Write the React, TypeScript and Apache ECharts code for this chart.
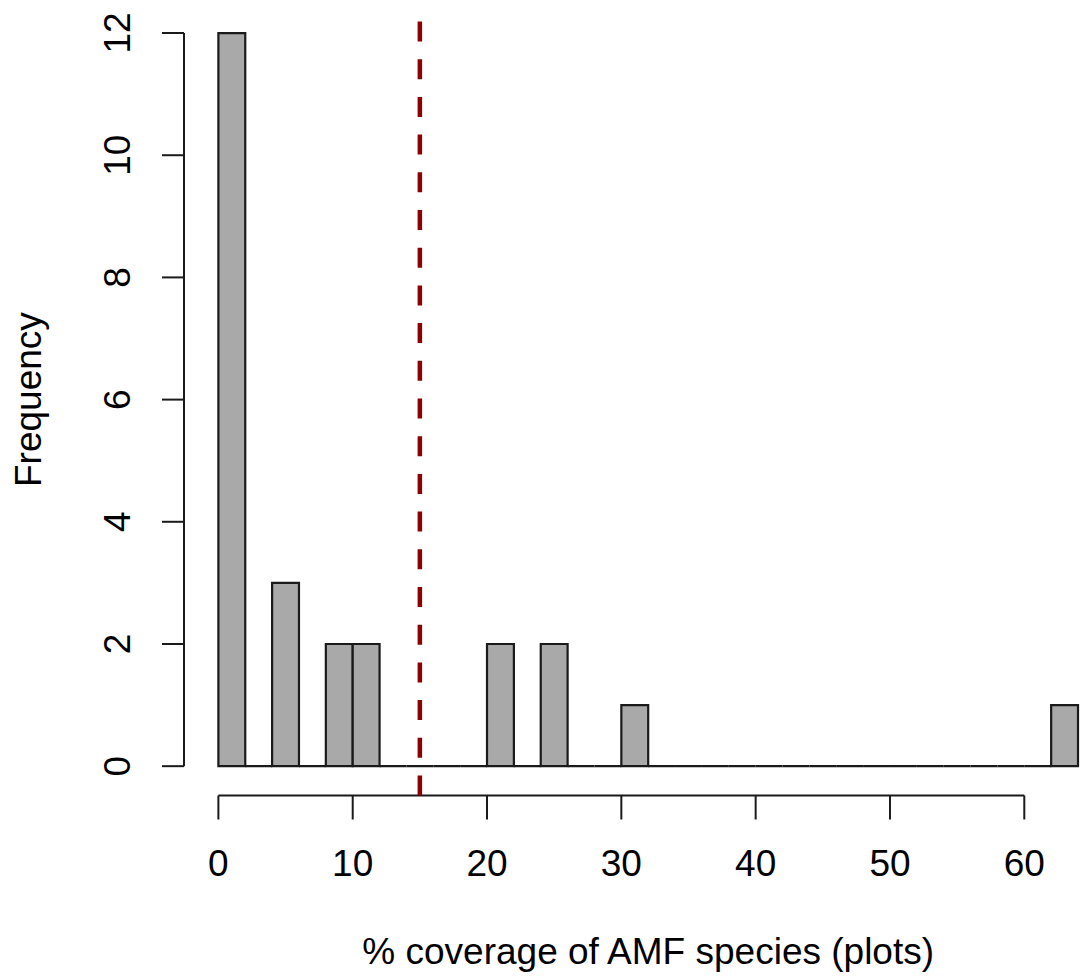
import React, { useEffect, useRef } from "react";
import * as echarts from "echarts";

// Histogram data (bins of width 2)
const binStarts = [0, 2, 4, 6, 8, 10, 12, 14, 16, 18, 20, 22, 24, 26, 28, 30, 32, 34, 36, 38, 40, 42, 44, 46, 48, 50, 52, 54, 56, 58, 60, 62];
const binWidth = 2;
const counts = [12, 0, 3, 0, 2, 2, 0, 0, 0, 0, 2, 0, 2, 0, 0, 1, 0, 0, 0, 0, 0, 0, 0, 0, 0, 0, 0, 0, 0, 0, 0, 1];
const xTicks = [0, 10, 20, 30, 40, 50, 60];
const yTicks = [0, 2, 4, 6, 8, 10, 12];
const meanValue = 15;
const xTitle = "% coverage of AMF species (plots)";
const yTitle = "Frequency";

const X_MIN = -2.56;
const X_MAX = 66.56;
const Y_MIN = -0.48;
const Y_MAX = 12.48;

const FONT = "'Liberation Sans', Arial, sans-serif";
const FS = 37;
const LINE = "#1a1a1a";

export default function App() {
  const ref = useRef<HTMLDivElement>(null);
  useEffect(() => {
    document.body.style.margin = "0";
    const chart = echarts.init(ref.current!, null, { renderer: "svg" });
    const txt = (x: number, y: number, text: string, rotation = 0) => ({
      type: "text",
      x,
      y,
      rotation,
      style: {
        text,
        fontSize: FS,
        fontFamily: FONT,
        fill: "#000",
        align: "center",
        verticalAlign: "middle",
        textAlign: "center",
        textVerticalAlign: "middle",
      },
    });
    chart.setOption({
      animation: false,
      grid: { left: 184, top: 3.7, width: 928.4, height: 791.8, containLabel: false },
      xAxis: { type: "value", min: X_MIN, max: X_MAX, show: false },
      yAxis: { type: "value", min: Y_MIN, max: Y_MAX, show: false },
      series: [
        {
          type: "custom",
          name: "bars",
          silent: true,
          clip: false,
          data: binStarts.map((s, i) => [s, s + binWidth, counts[i]]),
          renderItem: (params: any, api: any) => {
            const p0 = api.coord([api.value(0), 0]);
            const p1 = api.coord([api.value(1), api.value(2)]);
            return {
              type: "rect",
              shape: { x: p0[0], y: p1[1], width: p1[0] - p0[0], height: p0[1] - p1[1] },
              style: { fill: "#a9a9a9", stroke: LINE, lineWidth: 2.2 },
            };
          },
        },
        {
          type: "custom",
          name: "xaxis",
          silent: true,
          clip: false,
          data: xTicks.map((v) => [v]),
          renderItem: (params: any, api: any) => {
            const v = api.value(0);
            const p = api.coord([v, Y_MIN]);
            const children: any[] = [
              { type: "line", shape: { x1: p[0], y1: p[1], x2: p[0], y2: p[1] + 24 }, style: { stroke: LINE, lineWidth: 2 } },
              txt(p[0], p[1] + 68, String(v)),
            ];
            if (params.dataIndex === 0) {
              const e = api.coord([xTicks[xTicks.length - 1], Y_MIN]);
              children.push({ type: "line", shape: { x1: p[0], y1: p[1], x2: e[0], y2: e[1] }, style: { stroke: LINE, lineWidth: 2 } });
              const c = api.coord([(X_MIN + X_MAX) / 2, Y_MIN]);
              children.push(txt(c[0], p[1] + 156, xTitle));
            }
            return { type: "group", children };
          },
        },
        {
          type: "custom",
          name: "yaxis",
          silent: true,
          clip: false,
          data: yTicks.map((v) => [v]),
          renderItem: (params: any, api: any) => {
            const v = api.value(0);
            const p = api.coord([X_MIN, v]);
            const children: any[] = [
              { type: "line", shape: { x1: p[0], y1: p[1], x2: p[0] - 22, y2: p[1] }, style: { stroke: LINE, lineWidth: 2 } },
              txt(p[0] - 67, p[1], String(v), Math.PI / 2),
            ];
            if (params.dataIndex === 0) {
              const e = api.coord([X_MIN, yTicks[yTicks.length - 1]]);
              children.push({ type: "line", shape: { x1: p[0], y1: p[1], x2: e[0], y2: e[1] }, style: { stroke: LINE, lineWidth: 2 } });
              const c = api.coord([X_MIN, (Y_MIN + Y_MAX) / 2]);
              children.push(txt(p[0] - 156, c[1], yTitle, Math.PI / 2));
            }
            return { type: "group", children };
          },
        },
        {
          type: "custom",
          name: "mean",
          silent: true,
          clip: false,
          data: [[meanValue]],
          renderItem: (params: any, api: any) => {
            const b = api.coord([api.value(0), Y_MIN]);
            const t = api.coord([api.value(0), Y_MAX]);
            return {
              type: "line",
              shape: { x1: b[0], y1: b[1], x2: t[0], y2: t[1] },
              style: { stroke: "#8b0000", lineWidth: 4.5, lineDash: [20, 17.7] },
            };
          },
        },
      ],
    });
    return () => chart.dispose();
  }, []);
  return (
    <div style={{ width: 1080, height: 979, overflow: "hidden", position: "relative" }}>
      <div ref={ref} style={{ width: 1120, height: 979 }} />
    </div>
  );
}
